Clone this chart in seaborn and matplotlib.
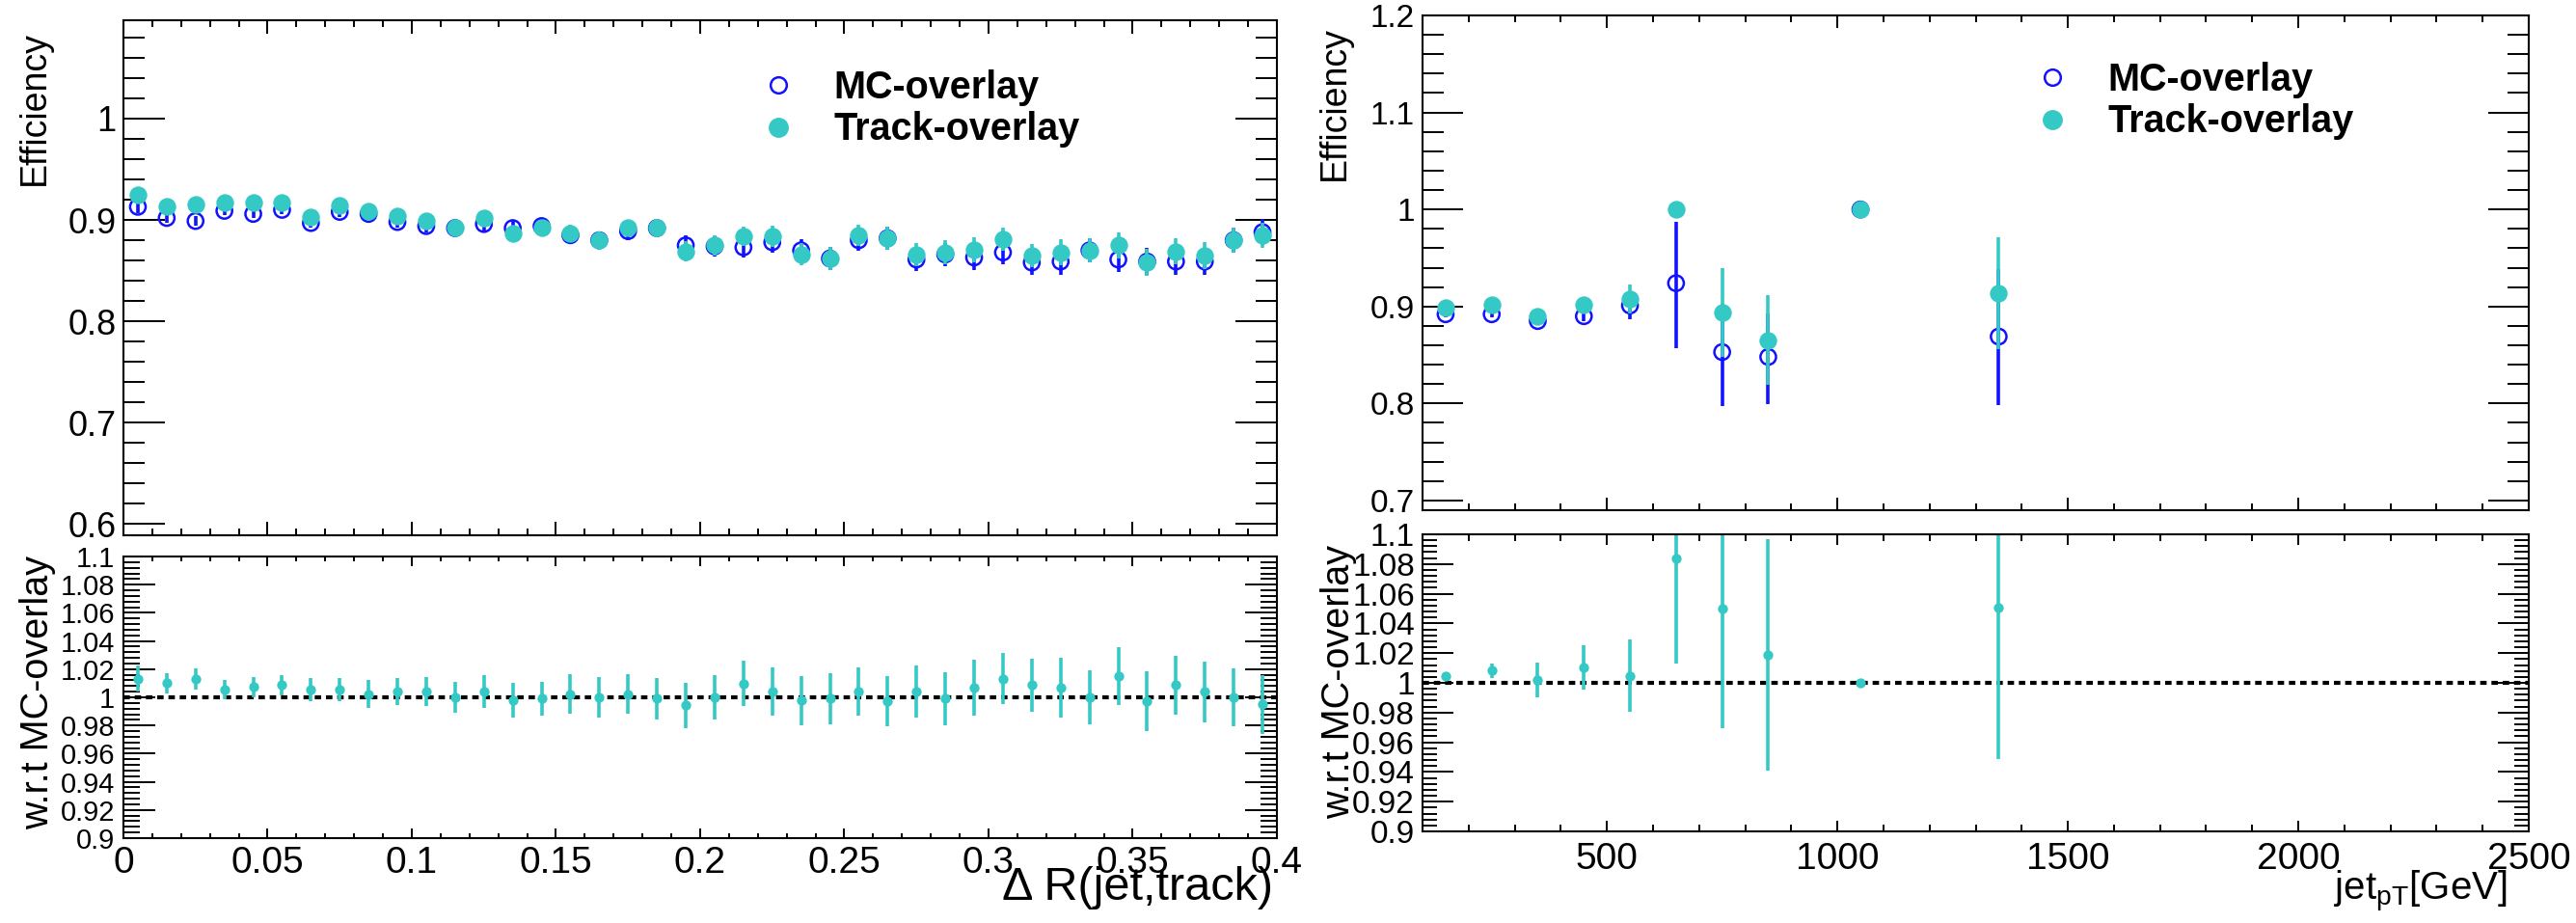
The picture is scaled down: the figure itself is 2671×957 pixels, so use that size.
import numpy as np
import matplotlib
matplotlib.use("Agg")
import matplotlib.pyplot as plt
from matplotlib.ticker import MultipleLocator, FuncFormatter, NullFormatter
from matplotlib.lines import Line2D
import seaborn as sns

# ---------------- data ----------------
# Left: efficiency vs Delta R(jet, track), 40 bins of 0.01
dr_centers = [0.005, 0.015, 0.025, 0.035, 0.045, 0.055, 0.065, 0.075, 0.085, 0.095,
              0.105, 0.115, 0.125, 0.135, 0.145, 0.155, 0.165, 0.175, 0.185, 0.195,
              0.205, 0.215, 0.225, 0.235, 0.245, 0.255, 0.265, 0.275, 0.285, 0.295,
              0.305, 0.315, 0.325, 0.335, 0.345, 0.355, 0.365, 0.375, 0.385, 0.395]
dr_track_eff = [0.925, 0.913, 0.915, 0.917, 0.917, 0.917, 0.903, 0.914, 0.909, 0.904,
                0.899, 0.892, 0.902, 0.887, 0.892, 0.887, 0.880, 0.892, 0.892, 0.869,
                0.875, 0.884, 0.884, 0.866, 0.862, 0.885, 0.882, 0.866, 0.868, 0.871,
                0.881, 0.865, 0.868, 0.870, 0.875, 0.858, 0.869, 0.865, 0.880, 0.885]
dr_mc_eff = [0.913, 0.902, 0.899, 0.909, 0.906, 0.910, 0.897, 0.908, 0.906, 0.898,
             0.894, 0.892, 0.896, 0.892, 0.894, 0.885, 0.880, 0.889, 0.892, 0.875,
             0.874, 0.873, 0.878, 0.870, 0.862, 0.880, 0.882, 0.861, 0.866, 0.863,
             0.868, 0.858, 0.859, 0.870, 0.861, 0.859, 0.859, 0.859, 0.880, 0.888]
dr_eff_err = [0.006, 0.0045, 0.0048, 0.004, 0.0043, 0.0043, 0.005, 0.005, 0.006, 0.006,
              0.0065, 0.0068, 0.007, 0.0075, 0.0074, 0.0085, 0.009, 0.0085, 0.009, 0.0098,
              0.0098, 0.0098, 0.0105, 0.011, 0.0113, 0.0105, 0.011, 0.0113, 0.0117, 0.0123,
              0.0113, 0.0117, 0.013, 0.0117, 0.0127, 0.0132, 0.0127, 0.0132, 0.0127, 0.0127]
dr_ratio = [1.0133, 1.010, 1.013, 1.0055, 1.0073, 1.0087, 1.0055, 1.0055, 1.0023, 1.004,
            1.004, 1.000, 1.004, 0.9977, 0.999, 1.0023, 1.000, 1.0023, 0.999, 0.9943,
            1.000, 1.0097, 1.004, 0.9977, 0.999, 1.004, 0.9972, 1.004, 0.999, 1.0069,
            1.0133, 1.0087, 1.0069, 1.000, 1.015, 0.9972, 1.0087, 1.004, 1.000, 0.995]
dr_ratio_err = [0.0095, 0.0073, 0.0077, 0.0066, 0.007, 0.007, 0.008, 0.008, 0.010, 0.0095,
                0.0105, 0.011, 0.0115, 0.0123, 0.012, 0.0138, 0.0146, 0.0138, 0.0145, 0.016,
                0.016, 0.016, 0.017, 0.0176, 0.0184, 0.017, 0.0176, 0.0184, 0.019, 0.020,
                0.0184, 0.019, 0.021, 0.019, 0.0207, 0.0215, 0.0207, 0.0215, 0.0207, 0.0207]

# Right: efficiency vs jet pT [GeV]
pt_centers = [150, 250, 350, 450, 550, 650, 750, 850, 1050, 1350]
pt_track_eff = [0.899, 0.902, 0.890, 0.902, 0.9075, 1.000, 0.894, 0.865, 1.000, 0.914]
pt_track_err_lo = [0.003, 0.003, 0.004, 0.005, 0.015, 0.0, 0.046, 0.046, 0.0, 0.058]
pt_track_err_hi = [0.003, 0.003, 0.004, 0.005, 0.015, 0.0, 0.046, 0.047, 0.0, 0.057]
pt_mc_eff = [0.892, 0.892, 0.885, 0.890, 0.901, 0.924, 0.853, 0.848, 1.000, 0.869]
pt_mc_err_lo = [0.003, 0.003, 0.004, 0.005, 0.014, 0.067, 0.056, 0.049, 0.0, 0.071]
pt_mc_err_hi = [0.003, 0.003, 0.004, 0.005, 0.014, 0.063, 0.050, 0.045, 0.0, 0.070]
pt_ratio = [1.0048, 1.0082, 1.002, 1.0104, 1.0048, 1.0839, 1.0497, 1.019, 1.000, 1.0504]
pt_ratio_err = [0.002, 0.005, 0.0117, 0.0148, 0.0243, 0.071, 0.080, 0.078, 0.0, 0.102]

labels = ["MC-overlay", "Track-overlay"]

# ---------------- style ----------------
sns.set_theme(style="white")
plt.rcParams["font.family"] = ["Liberation Sans", "DejaVu Sans"]
plt.rcParams["mathtext.default"] = "regular"
plt.rcParams["axes.linewidth"] = 1.5
plt.rcParams["text.color"] = "black"
plt.rcParams["axes.labelcolor"] = "black"
plt.rcParams["xtick.color"] = "black"
plt.rcParams["ytick.color"] = "black"

CYAN = "#35c9c6"
BLUE = "#1212ff"

fig = plt.figure(figsize=(26.71, 9.57), dpi=100)
fig.patch.set_facecolor("white")

ax_lt = fig.add_axes([0.04792, 0.42006, 0.44777, 0.55799])
ax_lb = fig.add_axes([0.04792, 0.09195, 0.44777, 0.30512])
ax_rt = fig.add_axes([0.55223, 0.44723, 0.42943, 0.53605])
ax_rb = fig.add_axes([0.55223, 0.09927, 0.42943, 0.32184])

fmt = FuncFormatter(lambda v, p: f"{v:g}")


def style_axes(ax, xmaj, xmin, ymaj, ymin, xlen, ylen, ylab, xlab, ypad, xpad, show_x):
    ax.xaxis.set_major_locator(MultipleLocator(xmaj))
    ax.xaxis.set_minor_locator(MultipleLocator(xmin))
    ax.yaxis.set_major_locator(MultipleLocator(ymaj))
    ax.yaxis.set_minor_locator(MultipleLocator(ymin))
    ax.yaxis.set_major_formatter(fmt)
    if show_x:
        ax.xaxis.set_major_formatter(fmt)
    else:
        ax.xaxis.set_major_formatter(NullFormatter())
    ax.tick_params(which="both", direction="in", top=True, bottom=True,
                   left=True, right=True, width=1.4, color="black")
    ax.tick_params(axis="x", which="major", length=xlen[0], labelsize=xlab, pad=xpad)
    ax.tick_params(axis="x", which="minor", length=xlen[1])
    ax.tick_params(axis="y", which="major", length=ylen[0], labelsize=ylab, pad=ypad)
    ax.tick_params(axis="y", which="minor", length=ylen[1])
    for s in ax.spines.values():
        s.set_linewidth(1.5)
        s.set_color("black")
    ax.grid(False)
    ax.set_facecolor("white")


def draw_eff(ax, x, mc, mc_lo, mc_hi, trk, trk_lo, trk_hi):
    ax.errorbar(x, mc, yerr=[mc_lo, mc_hi], fmt="none", ecolor=BLUE,
                elinewidth=2.6, capsize=0, zorder=2)
    sns.scatterplot(x=x, y=mc, ax=ax, marker="o", s=135, color=BLUE,
                    facecolors="none", edgecolor=BLUE, linewidth=1.8, zorder=3)
    ax.errorbar(x, trk, yerr=[trk_lo, trk_hi], fmt="none", ecolor=CYAN,
                elinewidth=2.6, capsize=0, zorder=4)
    sns.scatterplot(x=x, y=trk, ax=ax, marker="o", s=175, color=CYAN,
                    edgecolor=CYAN, linewidth=0, zorder=5)


def draw_ratio(ax, x, r, rerr):
    ax.axhline(1.0, color="black", lw=3.0, linestyle=(0, (1.6, 1.2)), zorder=1)
    ax.errorbar(x, r, yerr=rerr, fmt="none", ecolor=CYAN, elinewidth=2.6,
                capsize=0, zorder=2)
    sns.scatterplot(x=x, y=r, ax=ax, marker="o", s=55, color=CYAN,
                    edgecolor=CYAN, linewidth=0, zorder=3)


def add_legend(ax, bx, by):
    handles = [
        Line2D([], [], marker="o", linestyle="none", markerfacecolor="none",
               markeredgecolor=BLUE, markeredgewidth=1.8, markersize=12),
        Line2D([], [], marker="o", linestyle="none", markerfacecolor=CYAN,
               markeredgecolor=CYAN, markersize=14),
    ]
    ax.legend(handles, labels, loc="center left", bbox_to_anchor=(bx, by),
              frameon=False, prop={"weight": "bold", "size": 28.5},
              handlelength=1.0, handletextpad=0.95, borderpad=0.0,
              borderaxespad=0.0, labelspacing=0.15)


# ---- left top ----
draw_eff(ax_lt, dr_centers, dr_mc_eff, dr_eff_err, dr_eff_err,
         dr_track_eff, dr_eff_err, dr_eff_err)
ax_lt.set_xlim(0, 0.4)
ax_lt.set_ylim(0.589, 1.097)
style_axes(ax_lt, 0.05, 0.01, 0.1, 0.02, (10, 5), (31, 16), 26, 28, 5.5, 6, False)
ax_lt.set_ylabel("Efficiency", fontsize=27, ha="right", va="center")
ax_lt.yaxis.set_label_coords(-0.0769, 0.979)
add_legend(ax_lt, 0.551, 0.8287)

# ---- left bottom ----
draw_ratio(ax_lb, dr_centers, dr_ratio, dr_ratio_err)
ax_lb.set_xlim(0, 0.4)
ax_lb.set_ylim(0.9, 1.1)
style_axes(ax_lb, 0.05, 0.01, 0.02, 0.004, (7, 3.6), (24, 12), 21, 28, 6.5, 6, True)
ax_lb.set_ylabel("w.r.t MC-overlay", fontsize=28.5, ha="right", va="center")
ax_lb.yaxis.set_label_coords(-0.0744, 1.005)
ax_lb.set_xlabel("\u0394 R(jet,track)", fontsize=35, ha="right", va="baseline")
ax_lb.xaxis.set_label_coords(0.9967, -0.219)

# ---- right top ----
draw_eff(ax_rt, pt_centers, pt_mc_eff, pt_mc_err_lo, pt_mc_err_hi,
         pt_track_eff, pt_track_err_lo, pt_track_err_hi)
ax_rt.set_xlim(100, 2500)
ax_rt.set_ylim(0.69, 1.2)
style_axes(ax_rt, 500, 100, 0.1, 0.02, (9.4, 5), (30, 16), 24, 28, 5.8, 6, False)
ax_rt.set_ylabel("Efficiency", fontsize=27, ha="right", va="center")
ax_rt.yaxis.set_label_coords(-0.0793, 0.979)
add_legend(ax_rt, 0.552, 0.8275)

# ---- right bottom ----
draw_ratio(ax_rb, pt_centers, pt_ratio, pt_ratio_err)
ax_rb.set_xlim(100, 2500)
ax_rb.set_ylim(0.9, 1.1)
style_axes(ax_rb, 500, 100, 0.02, 0.004, (8, 5), (23, 11), 24, 28, 5.8, 8, True)
ax_rb.set_ylabel("w.r.t MC-overlay", fontsize=28.5, ha="right", va="center")
ax_rb.yaxis.set_label_coords(-0.076, 0.964)
ax_rb.set_xlabel(r"jet$_{pT}$[GeV]", fontsize=29, ha="right", va="baseline")
ax_rb.xaxis.set_label_coords(0.981, -0.2305)

fig.savefig("out.png", dpi=100, facecolor="white")
